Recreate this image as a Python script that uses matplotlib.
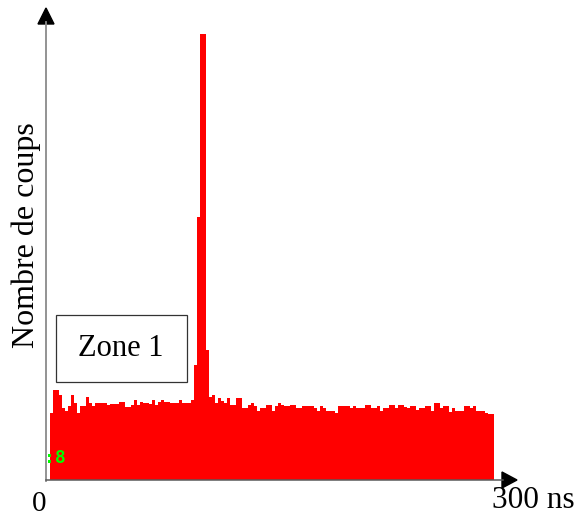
import matplotlib
matplotlib.use("Agg")
import matplotlib.pyplot as plt
from matplotlib.patches import Polygon
import numpy as np

# ---- data ----
bin_width_ns = 2
counts = [67, 90, 90, 85, 72, 69, 74, 85, 77, 67,
          74, 74, 83, 77, 74, 77, 77, 77, 77, 75,
          76, 76, 76, 78, 78, 73, 73, 75, 80, 75,
          78, 77, 77, 76, 80, 75, 78, 80, 78, 78,
          77, 77, 77, 80, 77, 77, 77, 80, 115, 263,
          446, 446, 130, 83, 85, 77, 82, 79, 77, 82,
          75, 75, 82, 82, 72, 72, 75, 77, 74, 69,
          72, 72, 75, 75, 69, 74, 77, 75, 74, 74,
          75, 75, 72, 72, 74, 74, 74, 74, 72, 69,
          74, 72, 69, 69, 69, 67, 74, 74, 74, 74,
          72, 74, 72, 72, 72, 75, 75, 72, 72, 74,
          69, 72, 72, 75, 75, 72, 75, 75, 73, 72,
          74, 74, 70, 72, 72, 74, 74, 69, 77, 77,
          72, 74, 74, 68, 72, 69, 69, 69, 74, 74,
          72, 74, 69, 69, 69, 67, 66, 66]
edges = np.arange(len(counts)) * bin_width_ns
ylabel = "Nombre de coups"
x_start_label = "0"
x_end_label = "300 ns"
zone_label = "Zone 1"

W, H = 575, 518
fig = plt.figure(figsize=(W / 100, H / 100), dpi=100)

def fx(p):
    return p / W

def fy(p):
    return 1 - p / H

ax = fig.add_axes([fx(46), 38 / H, 471 / W, 472 / H])
ax.bar(edges, counts, width=bin_width_ns, align="edge", color="#ff0000",
       edgecolor="none", linewidth=0, zorder=2)
ax.set_xlim((46 - 50) / 1.5, (517 - 50) / 1.5)
ax.set_ylim(0, 472)
ax.axis("off")

# axes lines with arrow heads (figure pixel geometry)
fig.add_artist(plt.Line2D([fx(46), fx(46)], [fy(481), fy(22)], color="#8a8a8a",
                          lw=1.3, transform=fig.transFigure, zorder=3))
fig.add_artist(plt.Line2D([fx(46), fx(503)], [fy(480), fy(480)], color="#5a5a5a",
                          lw=1.1, transform=fig.transFigure, zorder=3))
fig.add_artist(Polygon([[fx(46), fy(8)], [fx(38), fy(24)], [fx(54), fy(24)]],
                       closed=True, color="black", transform=fig.transFigure))
fig.add_artist(Polygon([[fx(517), fy(480)], [fx(502), fy(472)], [fx(502), fy(488)]],
                       closed=True, color="black", transform=fig.transFigure))

serif = "Liberation Serif"
fig.text(fx(26), fy(235), ylabel, rotation=90, ha="center", va="center",
         fontsize=23, family=serif)
fig.text(fx(39.5), fy(504), x_start_label, ha="center", va="center",
         fontsize=21, family=serif)
fig.text(fx(533), fy(501), x_end_label, ha="center", va="center",
         fontsize=22.5, family=serif)

# Zone 1 box
fig.add_artist(plt.Rectangle((fx(56), fy(382)), (187 - 56) / W, (382 - 315) / H,
                             fill=False, edgecolor="#333333", lw=0.9,
                             transform=fig.transFigure))
fig.text(fx(121), fy(348), zone_label, ha="center", va="center",
         fontsize=22, family=serif)

# small green marks
fig.text(fx(55), fy(458), ":8", ha="center", va="center", fontsize=13,
         color="#00ff00", family="DejaVu Sans Mono", fontweight="bold")

fig.savefig("out.png", dpi=100)
